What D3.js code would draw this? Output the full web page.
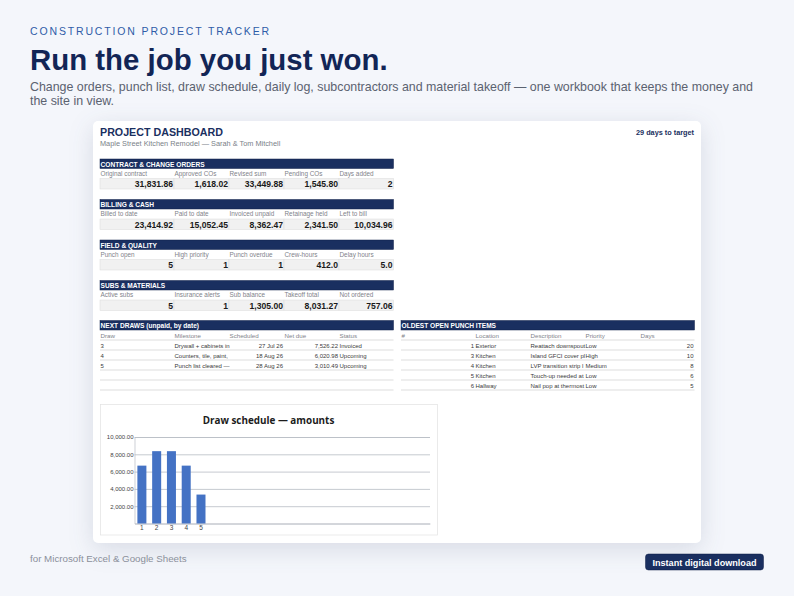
<!DOCTYPE html>
<html>
<head>
<meta charset="utf-8">
<script src="https://cdn.jsdelivr.net/npm/d3@7"></script>
<style>
  html, body { margin: 0; padding: 0; background: #f4f6fb; }
  svg { display: block; font-family: "Liberation Sans", Arial, sans-serif; }
  .card { filter: drop-shadow(0 6px 12px rgba(40, 55, 90, 0.14)); }
</style>
</head>
<body>
<svg id="page" width="794" height="596"></svg>
<script>
// kpi blocks
const kpiTitles = ["CONTRACT & CHANGE ORDERS", "BILLING & CASH", "FIELD & QUALITY", "SUBS & MATERIALS"];
const kpiLabels = [
  ["Original contract", "Approved COs", "Revised sum", "Pending COs", "Days added"],
  ["Billed to date", "Paid to date", "Invoiced unpaid", "Retainage held", "Left to bill"],
  ["Punch open", "High priority", "Punch overdue", "Crew-hours", "Delay hours"],
  ["Active subs", "Insurance alerts", "Sub balance", "Takeoff total", "Not ordered"]
];
const kpiValues = [
  ["31,831.86", "1,618.02", "33,449.88", "1,545.80", "2"],
  ["23,414.92", "15,052.45", "8,362.47", "2,341.50", "10,034.96"],
  ["5", "1", "1", "412.0", "5.0"],
  ["5", "1", "1,305.00", "8,031.27", "757.06"]
];

// tables
const drawHead = ["Draw", "Milestone", "Scheduled", "Net due", "Status"];
const drawRows = [
  ["3", "Drywall + cabinets in", "27 Jul 26", "7,526.22", "Invoiced"],
  ["4", "Counters, tile, paint,", "18 Aug 26", "6,020.98", "Upcoming"],
  ["5", "Punch list cleared \u2014", "28 Aug 26", "3,010.49", "Upcoming"]
];
const punchHead = ["#", "Location", "Description", "Priority", "Days"];
const punchRows = [
  ["1", "Exterior", "Reattach downspout", "Low", "20"],
  ["3", "Kitchen", "Island GFCI cover pl", "High", "10"],
  ["4", "Kitchen", "LVP transition strip l", "Medium", "8"],
  ["5", "Kitchen", "Touch-up needed at", "Low", "6"],
  ["6", "Hallway", "Nail pop at thermost", "Low", "5"]
];

// chart
const drawNumbers = [1, 2, 3, 4, 5];
const drawAmounts = [6690, 8362, 8362, 6690, 3345];
const yTicks = [2000, 4000, 6000, 8000, 10000];

const NAVY = "#1a2f60";
const svg = d3.select("#page");

function text(parent, x, y, str, size, fill, opts) {
  opts = opts || {};
  return parent.append("text")
    .attr("x", x).attr("y", y)
    .attr("font-size", size)
    .attr("fill", fill)
    .attr("font-weight", opts.weight || "normal")
    .attr("text-anchor", opts.anchor || "start")
    .style("letter-spacing", opts.spacing || null)
    .text(str);
}

// page header
text(svg, 30, 35, "CONSTRUCTION PROJECT TRACKER", 10.5, "#2f5ca8", {spacing: "1.85px"});
text(svg, 30, 70, "Run the job you just won.", 29.4, "#122556", {weight: "bold"});
text(svg, 30, 91, "Change orders, punch list, draw schedule, daily log, subcontractors and material takeoff \u2014 one workbook that keeps the money and", 12.4, "#5b6270");
text(svg, 30, 105, "the site in view.", 12.4, "#5b6270");

// card
svg.append("rect").attr("class", "card")
  .attr("x", 93).attr("y", 121).attr("width", 608).attr("height", 422)
  .attr("rx", 5).attr("fill", "#fff");

text(svg, 100, 136, "PROJECT DASHBOARD", 10.7, NAVY, {weight: "bold"});
text(svg, 100, 146, "Maple Street Kitchen Remodel \u2014 Sarah & Tom Mitchell", 7.35, "#7a7f88");
text(svg, 694, 135, "29 days to target", 7.3, NAVY, {weight: "bold", anchor: "end"});

function banner(x, y, w, str) {
  svg.append("rect").attr("x", x).attr("y", y).attr("width", w).attr("height", 9.5)
    .attr("fill", NAVY).attr("stroke", "#10204a").attr("stroke-width", 0.5);
  text(svg, x + 0.5, y + 7.5, str, 6.6, "#fff", {weight: "bold"});
}

// column edges shared by the left blocks
const leftCols = [100, 174, 229, 284, 339, 393.5];
const rightCols = [401, 475, 530, 585, 640, 694.5];
const kpiTops = [159, 199.5, 240, 280.5];

kpiTops.forEach(function(top, i) {
  banner(100, top, 293.5, kpiTitles[i]);
  kpiLabels[i].forEach(function(label, c) {
    text(svg, leftCols[c] + 0.5, top + 16.5, label, 6.4, "#7f838a");
    svg.append("rect")
      .attr("x", leftCols[c]).attr("y", top + 19.5)
      .attr("width", leftCols[c + 1] - leftCols[c]).attr("height", 10.5)
      .attr("fill", "#f1f1f1").attr("stroke", "#dadada").attr("stroke-width", 0.5);
    text(svg, leftCols[c + 1] - 1, top + 28.3, kpiValues[i][c], 8.6, "#1a1a1a", {weight: "bold", anchor: "end"});
  });
});

function table(cols, title, head, rows, anchors) {
  const top = 320.5;
  const rowH = 10;
  banner(cols[0], top, cols[5] - cols[0], title);
  head.forEach(function(h, c) {
    text(svg, cols[c] + 0.5, top + 17, h, 6.2, "#7f838a");
  });
  for (let r = 0; r <= 5; r++) {
    svg.append("line")
      .attr("x1", cols[0]).attr("x2", cols[5])
      .attr("y1", top + 19.5 + r * rowH).attr("y2", top + 19.5 + r * rowH)
      .attr("stroke", "#cfcfcf").attr("stroke-width", 0.7);
  }
  rows.forEach(function(row, r) {
    row.forEach(function(v, c) {
      const end = anchors[c] === "end";
      const x = end ? cols[c + 1] - 1 : cols[c] + 0.5;
      text(svg, x, top + 27.2 + r * rowH, v, 6, "#3a3a3a", {anchor: anchors[c]});
    });
  });
}

table(leftCols, "NEXT DRAWS (unpaid, by date)", drawHead, drawRows, ["start", "start", "end", "end", "start"]);
table(rightCols, "OLDEST OPEN PUNCH ITEMS", punchHead, punchRows, ["end", "start", "start", "start", "end"]);

// chart box
svg.append("rect")
  .attr("x", 100.5).attr("y", 404.5).attr("width", 337).attr("height", 130.5)
  .attr("fill", "#fff").attr("stroke", "#e2e2e2").attr("stroke-width", 0.7);
text(svg, 268.5, 424, "Draw schedule \u2014 amounts", 9.9, "#1c1c1c", {weight: "bold", anchor: "middle"})
  .style("font-family", "'Open Sans', sans-serif");

// 20 category slots on the axis, only the first five are filled
const slots = d3.range(1, 21);
const x = d3.scaleBand().domain(slots).range([134.5, 430]).paddingInner(0.39).paddingOuter(0.195);
const y = d3.scaleLinear().domain([0, 10000]).range([523.5, 437]);

const plot = svg.append("g");
const yAxis = d3.axisLeft(y).tickValues(yTicks).tickSize(-(430 - 134.5))
  .tickFormat(d3.format(",.2f"));
const yG = plot.append("g").attr("transform", "translate(134.5,0)").call(yAxis);
yG.select(".domain").attr("stroke", "#b8bcc4").attr("stroke-width", 0.7);
yG.selectAll(".tick line").attr("stroke", "#b8bcc4").attr("stroke-width", 0.8);
yG.selectAll(".tick text").attr("font-size", 6).attr("fill", "#444").attr("x", -1)
  .style("font-family", "'Liberation Sans', sans-serif");

const xAxis = d3.axisBottom(x).tickValues(drawNumbers).tickSize(0).tickPadding(2);
const xG = plot.append("g").attr("transform", "translate(0,523.5)").call(xAxis);
xG.select(".domain").attr("stroke", "#b8bcc4").attr("stroke-width", 0.8);
xG.selectAll(".tick text").attr("font-size", 6.5).attr("fill", "#444")
  .style("font-family", "'Liberation Sans', sans-serif");

plot.append("g").selectAll("rect")
  .data(drawAmounts)
  .enter().append("rect")
    .attr("x", function(d, i) { return x(drawNumbers[i]); })
    .attr("y", function(d) { return y(d); })
    .attr("width", x.bandwidth())
    .attr("height", function(d) { return y(0) - y(d); })
    .attr("fill", "#4472c4");

// footer
text(svg, 30, 562, "for Microsoft Excel & Google Sheets", 9.75, "#8b909b");
svg.append("rect").attr("x", 645.5).attr("y", 554).attr("width", 118).attr("height", 16)
  .attr("rx", 3).attr("fill", NAVY).attr("stroke", "#0f1f47").attr("stroke-width", 0.5);
text(svg, 704.5, 565.5, "Instant digital download", 9.1, "#fff", {weight: "bold", anchor: "middle"});
</script>
</body>
</html>
